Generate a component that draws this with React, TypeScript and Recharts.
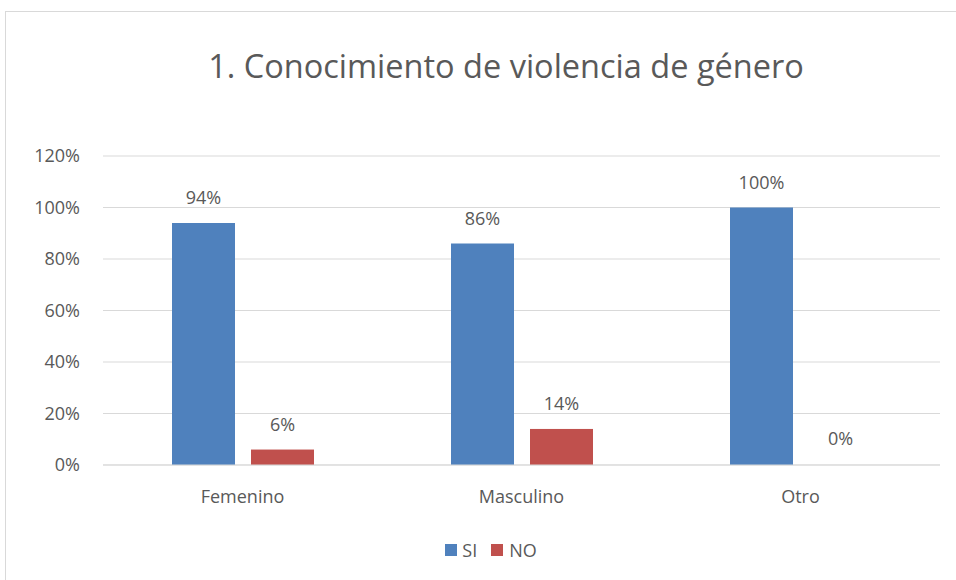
import { BarChart, Bar, XAxis, YAxis, CartesianGrid } from 'recharts';

const categories = ['Femenino', 'Masculino', 'Otro'];
const siValues = [0.94, 0.86, 1.0];
const noValues = [0.06, 0.14, 0];
const yTicks = [0, 0.2, 0.4, 0.6, 0.8, 1.0, 1.2];

const data = categories.map((name, i) => ({ name, SI: siValues[i], NO: noValues[i] }));

const FONT = '"Open Sans", "Noto Sans", sans-serif';
const TEXT = '#595959';
const pct = (v: number) => `${Math.round(v * 100)}%`;

// value label drawn above each bar (also for zero-height bars)
const barLabel = (props: any) => {
  const { x, y, width, value } = props;
  return (
    <text x={x + width / 2} y={y - 19} textAnchor="middle" fill={TEXT} fontSize={18} fontFamily={FONT}>
      {pct(value)}
    </text>
  );
};

// zero values get a 1px min size so their label shows, but no visible rect
const barShape = (key: string, color: string) => (props: any) => {
  const { x, y, width, height, payload } = props;
  if (!payload || !payload[key]) return <g />;
  return <rect x={x} y={y} width={width} height={height} fill={color} />;
};

export default function App() {
  return (
    <div style={{ position: 'absolute', left: 0, top: 0, width: 956, height: 580, overflow: 'hidden', background: '#fff' }}>
      <div style={{ position: 'absolute', left: 5, top: 11, width: 1000, height: 620, border: '1px solid #D9D9D9' }} />
      <div
        style={{
          position: 'absolute', left: 156, width: 700, top: 44, textAlign: 'center', lineHeight: '44px',
          fontFamily: FONT, fontSize: 32.5, color: TEXT, whiteSpace: 'nowrap',
        }}
      >
        1. Conocimiento de violencia de género
      </div>
      <div style={{ position: 'absolute', left: 0, top: 0 }}>
        <BarChart width={956} height={580} data={data} margin={{ top: 156, right: 16, bottom: 75, left: 0 }} barGap={16} barCategoryGap="24.5%">
          <CartesianGrid vertical={false} stroke="#D9D9D9" />
          <XAxis
            dataKey="name"
            height={40}
            axisLine={{ stroke: '#D9D9D9' }}
            tickLine={false}
            tickSize={0}
            tickMargin={25}
            tick={{ fill: TEXT, fontSize: 18, fontFamily: FONT }}
          />
          <YAxis
            width={103}
            domain={[0, 1.2]}
            ticks={yTicks}
            tickFormatter={pct}
            axisLine={false}
            tickLine={false}
            tickSize={0}
            tickMargin={23}
            tick={{ fill: TEXT, fontSize: 18, fontFamily: FONT }}
          />
          <Bar dataKey="SI" fill="#4F81BD" barSize={63} isAnimationActive={false} label={barLabel} />
          <Bar
            dataKey="NO"
            fill="#C0504D"
            barSize={63}
            minPointSize={1}
            isAnimationActive={false}
            label={barLabel}
            shape={barShape('NO', '#C0504D')}
          />
        </BarChart>
      </div>
      <div
        style={{
          position: 'absolute', left: 416, width: 150, top: 538, height: 24, display: 'flex', justifyContent: 'center',
          alignItems: 'center', fontFamily: FONT, fontSize: 18, color: TEXT,
        }}
      >
        <span style={{ width: 12, height: 12, background: '#4F81BD', display: 'inline-block', marginRight: 5 }} />
        <span style={{ marginRight: 14 }}>SI</span>
        <span style={{ width: 12, height: 12, background: '#C0504D', display: 'inline-block', marginRight: 6 }} />
        <span>NO</span>
      </div>
    </div>
  );
}
